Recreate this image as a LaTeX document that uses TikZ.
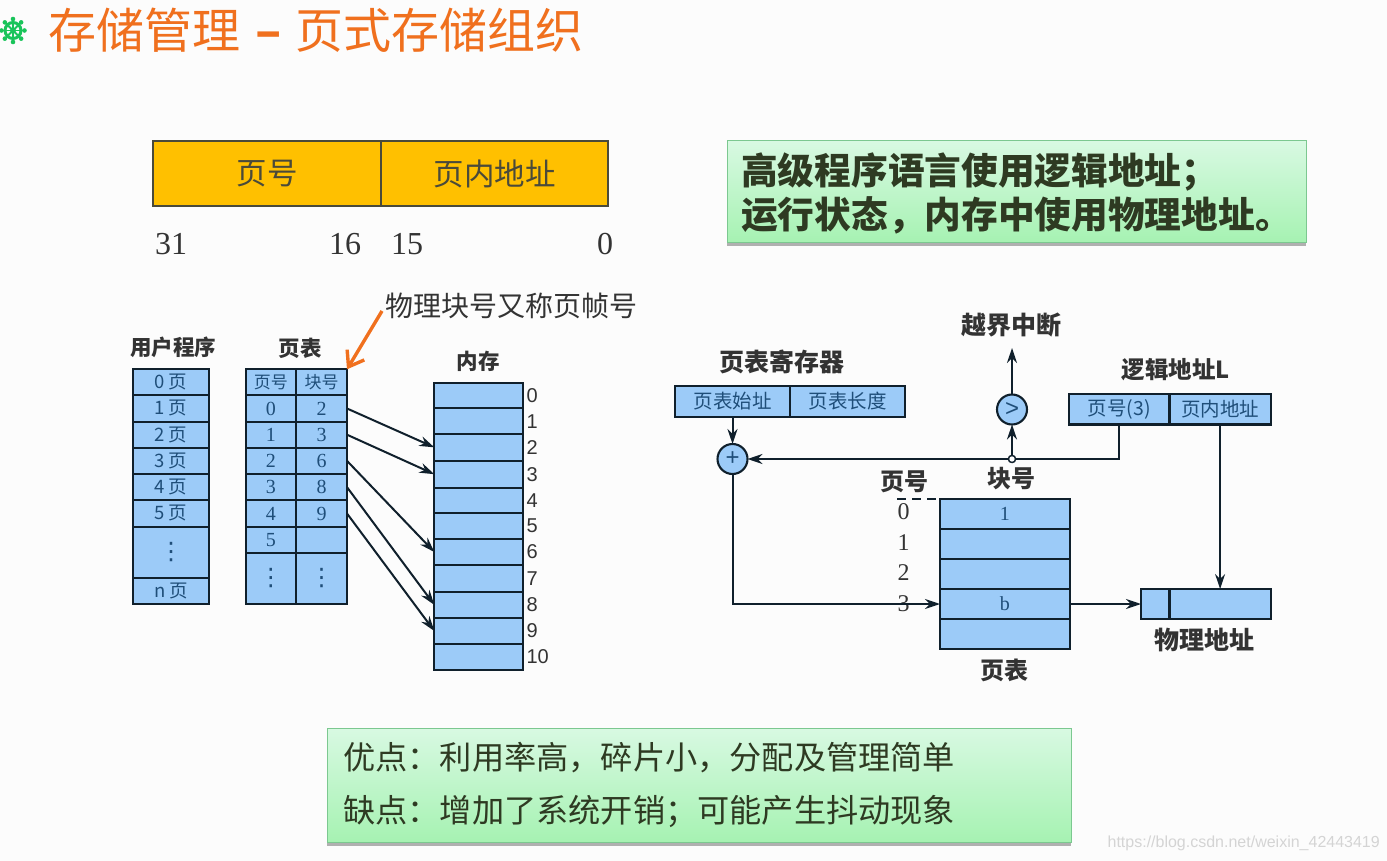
\documentclass[tikz,border=0pt]{standalone}
\usepackage{fontspec}
\setmainfont{Noto Sans CJK SC}
\newfontfamily\latser{Liberation Serif}
\newfontfamily\latsan{Liberation Sans}
\newfontfamily\dvsan{DejaVu Sans}
\usetikzlibrary{arrows.meta,shadows,positioning}
\newcommand\fsz[1]{\fontsize{#1}{#1}\selectfont}
\definecolor{cellblue}{HTML}{9CCBF8}
\definecolor{cellink}{HTML}{1F4E79}
\definecolor{lineink}{HTML}{10202C}
\definecolor{labink}{HTML}{333333}
\definecolor{barfill}{HTML}{FFC000}
\definecolor{barline}{HTML}{4A4A3A}
\definecolor{title}{HTML}{F0701E}
\definecolor{wheel}{HTML}{19C45A}
\definecolor{greentop}{HTML}{D8F9E2}
\definecolor{greenbot}{HTML}{A6F2B2}
\definecolor{greenline}{HTML}{7CC890}
\definecolor{boxtext}{HTML}{2E3A22}
\tikzset{
  cellbox/.style={draw=lineink,fill=cellblue,line width=2.1pt,inner sep=0pt,outer sep=0pt,text=cellink,font=\fsz{18.5}},
  barcell/.style={draw=barline,fill=barfill,line width=1.6pt,inner sep=0pt,outer sep=0pt,text=barline,font=\fsz{30.5}},
  lab/.style={inner sep=0pt,outer sep=0pt,text=labink,font=\bfseries\fsz{#1}},
  lab/.default=24,
  num/.style={inner sep=0pt,text=labink,font=\latser\fsz{#1}},
  circ/.style={circle,draw=lineink,fill=cellblue,line width=2.1pt,minimum size=30pt,inner sep=0pt,outer sep=0pt,text=cellink,font=\latsan\fsz{24}},
  conn/.style={draw=lineink,line width=2pt,-{Stealth[length=15pt,width=10pt]}},
  greenbox/.style={draw=greenline,line width=1pt,top color=greentop,bottom color=greenbot,inner sep=0pt,
     drop shadow={shadow xshift=0pt,shadow yshift=-3.5pt,opacity=.55,fill=black!55}},
}
\newcommand\cellat[7][cellbox]{%
  \pgfmathsetmacro\cw{#5-#3}\pgfmathsetmacro\ch{#6-#4}\pgfmathsetmacro\cx{(#3+#5)/2}\pgfmathsetmacro\cy{(#4+#6)/2}%
  \node[#1,minimum width=\cw pt,minimum height=\ch pt] (#2) at (\cx,\cy) {#7};}
\begin{document}
\begin{tikzpicture}[x=1pt,y=-1pt]
\useasboundingbox (0,0) rectangle (1387,861);
\fill[white!98.8!black] (0,0) rectangle (1387,861);
% wheel icon
\begin{scope}[shift={(13,30.5)}]
  \draw[wheel,line width=3pt] (0,0) circle (8pt);
  \fill[wheel] (0,0) circle (3pt);
  \foreach \a in {0,45,...,315} {
    \draw[wheel,line width=1.8pt] (0,0) -- (\a:10pt);
    \fill[wheel] (\a:11.5pt) circle (2.3pt);
  }
\end{scope}
\node[anchor=west,inner sep=0pt,text=title,font=\fsz{48}] (ttl) at (48,30) {存储管理\hspace{15pt}{\bfseries –}\hspace{14pt}页式存储组织};
% address format
\cellat[barcell]{hpage}{153}{141}{381}{206}{\raisebox{-3pt}{页号}}
\cellat[barcell]{hoff}{381}{141}{608}{206}{\raisebox{-3pt}{页内地址}}
\node[num=32] (b31) at (171,244) {31};
\node[num=32] (b16) at (345,244) {16};
\node[num=32] (b15) at (407,244) {15};
\node[num=32] (b0) at (605,244) {0};
% green box top
\node[greenbox,minimum width=579pt,minimum height=102pt] (gtop) at (1016.5,192) {};
\node[anchor=west,inner sep=0pt,text=boxtext,font=\bfseries\fsz{36.7}] (g1) at (741,172) {高级程序语言使用逻辑地址；};
\node[anchor=west,inner sep=0pt,text=boxtext,font=\bfseries\fsz{36.7}] (g2) at (741,215) {运行状态，内存中使用物理地址。};
% user program column
\node[lab=21.5] (luser) at (173,347) {用户程序};
\foreach \i/\ya/\yb/\t in {0/369.3/395.3/0 页,1/395.3/421.7/1 页,2/421.7/447.7/2 页,3/447.7/474/3 页,4/474/500.3/4 页,5/500.3/526.7/5 页,6/526.7/578.3/{\dvsan\fsz{24}⋮},7/578.3/604.3/n 页}
  {\cellat{u\i}{133}{\ya}{209}{\yb}{\t}}
% page table
\node[lab=21.5] (lpt) at (300,348) {页表};
\cellat{ph}{245.7}{369.3}{296}{395.3}{\fsz{17}页号}
\cellat{bh}{296}{369.3}{347}{395.3}{\fsz{17}块号}
\foreach \i/\ya/\yb/\p/\b in {0/395.3/421.7/0/2,1/421.7/447.7/1/3,2/447.7/474/2/6,3/474/500.3/3/8,4/500.3/526.7/4/9,5/526.7/552.7/5/{}}
  {\cellat{p\i}{245.7}{\ya}{296}{\yb}{\latser\fsz{20}\p}
   \cellat{f\i}{296}{\ya}{347}{\yb}{\latser\fsz{20}\b}}
\cellat{p6}{245.7}{552.7}{296}{604.3}{\dvsan\fsz{24}⋮}
\cellat{f6}{296}{552.7}{347}{604.3}{\dvsan\fsz{24}⋮}
% memory
\node[lab=21.5] (lmem) at (478,361) {内存};
\foreach \i/\ya/\yb in {0/382.7/408.3,1/408.3/434,2/434/460.7,3/460.7/487.7,4/487.7/513,5/513/539,6/539/565,7/565/591.7,8/591.7/618,9/618/644,10/644/670}{
  \cellat{m\i}{434.3}{\ya}{523.3}{\yb}{}
  \node[anchor=west,inner sep=0pt,text=labink,font=\latsan\fsz{20}] (mn\i) at ([xshift=3pt]m\i.east) {\i};
}
\foreach \a/\b in {f0/m2,f1/m3,f2/m6,f3/m8,f4/m9}
  \draw[conn] (\a.east) -- (\b.west);
% orange note
\node[anchor=west,inner sep=0pt,text=labink,font=\fsz{28}] (note) at (385,306) {物理块号又称页帧号};
\draw[draw=title,line width=3.4pt,-{Straight Barb[length=14pt,width=20pt]}] (note.west) ++(-3,5) coordinate (ntail) (ntail) -- (bh.north east);
% right diagram
\node[lab=25] (lreg) at (782,362) {页表寄存器};
\cellat{rs}{675}{386}{790}{417}{\fsz{19.5}页表始址}
\cellat{rl}{790}{386}{905}{417}{\fsz{19.5}页表长度}
\node[lab=25] (lint) at (1011.5,325) {越界中断};
\node[lab=23.5] (llog) at (1176,370) {逻辑地址L};
\cellat{lp}{1069}{394}{1169.5}{424.5}{\fsz{19.5}页号(3)}
\cellat{lo}{1169.5}{394}{1270.7}{424.5}{\fsz{19.5}页内地址}
\node[circ] (cmp) at (1012,409.5) {>};
\node[circ] (add) at (732.5,459) {+};
\node[circle,draw=lineink,fill=white,line width=1.3pt,minimum size=7pt,inner sep=0pt,outer sep=0pt] (jn) at (1012,459) {};
\node[lab=24] (lblk) at (1011.5,479) {块号};
\node[lab=24] (lpn) at (904,482) {页号};
\foreach \i/\y in {0/512,1/543,2/573,3/604}
  \node[num=24] (n\i) at (903.5,\y) {\i};
\cellat{t0}{940}{499}{1069.8}{529}{\latser\fsz{20}1}
\cellat{t1}{940}{529}{1069.8}{559}{}
\cellat{t2}{940}{559}{1069.8}{589}{}
\cellat{t3}{940}{589}{1069.8}{619}{\latser\fsz{20}b}
\cellat{t4}{940}{619}{1069.8}{649.3}{}
\node[lab=24] (ltb) at (1004,670) {页表};
\cellat{x0}{1141}{589}{1169.5}{619}{}
\cellat{x1}{1169.5}{589}{1270.7}{619}{}
\node[lab=25] (lphy) at (1204,640) {物理地址};
\coordinate (dashl) at (897,499);
\coordinate (intend) at (1012,348);
\draw[lineink,line width=2pt,dash pattern=on 9pt off 6pt] (dashl) -- (t0.north west);
\draw[conn] (rs.south) -- (add.north);
\draw[conn] (lp.south) |- (add.east);
\draw[conn] (jn.north) -- (cmp.south);
\draw[conn] (cmp.north) -- (intend);
\draw[conn] (add.south) |- (t3.west);
\draw[conn] (t3.east) -- (x0.west);
\draw[conn] (lo.south) -- (x1.north);
\node[circle,draw=lineink,fill=white,line width=1.3pt,minimum size=7pt,inner sep=0pt,outer sep=0pt] (jn2) at (jn) {};
% bottom box
\node[greenbox,minimum width=744pt,minimum height=114pt] (gbot) at (699,785) {};
\node[anchor=west,inner sep=0pt,text=boxtext,font=\fsz{32.2}] (pro) at (343,758) {优点：利用率高，碎片小，分配及管理简单};
\node[anchor=west,inner sep=0pt,text=boxtext,font=\fsz{32.2}] (con) at (343,811) {缺点：增加了系统开销；可能产生抖动现象};
% watermark
\node[anchor=east,inner sep=0pt,text=black!17,font=\latsan\fsz{16}] (wm) at (1380,843) {https://blog.csdn.net/weixin\_42443419};
\end{tikzpicture}
\end{document}
